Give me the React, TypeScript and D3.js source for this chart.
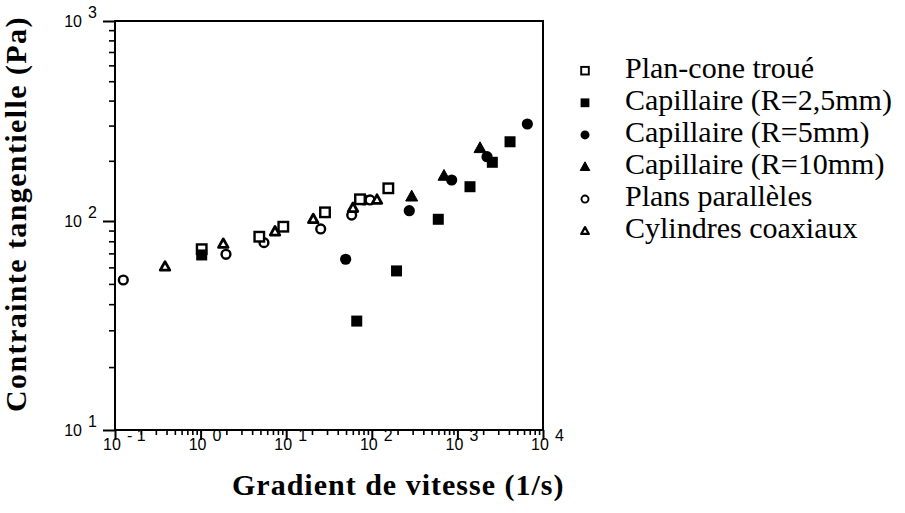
import React, { useEffect, useRef } from "react";
import * as d3 from "d3";

// ---- data ----
const planConeX = [1.03, 4.85, 9.25, 28.4, 72.8, 156];
const planConeY = [73.3, 84.1, 93.9, 110.5, 128.4, 145.7];

const cap25X = [1.03, 66.7, 194.5, 598, 1403, 2558, 4120];
const cap25Y = [68.8, 33.2, 57.7, 102, 148.4, 196.6, 249];

const cap5X = [49.5, 274, 857, 2218, 6561];
const cap5Y = [65.6, 112.6, 160.3, 209.6, 305.5];

const cap10X = [292.5, 697, 1837];
const cap10Y = [132.3, 168, 231];

const plansX = [0.125, 1.98, 5.5, 25.3, 58.2, 81.1, 95.3];
const plansY = [52.2, 69.3, 78.8, 91.6, 107, 127.4, 127.4];

const cylX = [0.384, 1.84, 7.4, 20.7, 60.3, 115];
const cylY = [60.4, 77.6, 88.9, 102, 116, 127.4];

const legendLabels = [
  "Plan-cone troué",
  "Capillaire (R=2,5mm)",
  "Capillaire (R=5mm)",
  "Capillaire (R=10mm)",
  "Plans parallèles",
  "Cylindres coaxiaux",
];
const markerKinds = ["openSquare", "filledSquare", "filledCircle", "filledTriangle", "openCircle", "cylTriangle"];

const xDecades = [-1, 0, 1, 2, 3, 4];
const yDecades = [1, 2, 3];

const xTitle = "Gradient de vitesse (1/s)";
const yTitle = "Contrainte tangentielle (Pa)";

// ---- layout ----
const W = 905;
const H = 513;
const left = 115, right = 543, top = 21, bottom = 430;

const xs = d3.scaleLog().domain([0.1, 10000]).range([left, right]);
const ys = d3.scaleLog().domain([10, 100, 1000]).range([bottom, 221, top]);

function Marker({ kind, cx, cy, s }: { kind: string; cx: number; cy: number; s: number }) {
  const tri = (size: number) => {
    const h = size * 0.9;
    return `M${cx},${cy - h * 0.6} L${cx + size / 2},${cy + h * 0.4} L${cx - size / 2},${cy + h * 0.4} Z`;
  };
  switch (kind) {
    case "openSquare": {
      const a = 9.5 * s;
      return <rect x={cx - a / 2} y={cy - a / 2} width={a} height={a} fill="#fff" stroke="#000" strokeWidth={2.4 * s} />;
    }
    case "filledSquare": {
      const a = 11 * s;
      return <rect x={cx - a / 2} y={cy - a / 2} width={a} height={a} fill="#000" />;
    }
    case "filledCircle":
      return <circle cx={cx} cy={cy} r={5.6 * s} fill="#000" />;
    case "filledTriangle":
      return <path d={tri(12 * s)} fill="#000" stroke="#000" strokeWidth={1} strokeLinejoin="round" />;
    case "openCircle":
      return <circle cx={cx} cy={cy} r={4.4 * s} fill="#fff" stroke="#000" strokeWidth={2.4 * s} />;
    case "cylTriangle":
      return <path d={tri(9.5 * s)} fill="#fff" stroke="#000" strokeWidth={2.8 * s} strokeLinejoin="round" />;
  }
  return null;
}

const tickFont = "'Liberation Sans', Arial, sans-serif";
const serif = "'Liberation Serif', 'Times New Roman', serif";
const tickStyle = { fontFamily: tickFont, fontSize: "16px", fill: "#000" };

export default function App() {
  const xAxisRef = useRef<SVGGElement>(null);
  const yAxisRef = useRef<SVGGElement>(null);

  const xMinor: number[] = [];
  for (let e = -1; e < 4; e++) for (let m = 2; m <= 9; m++) xMinor.push(m * Math.pow(10, e));
  const yMinor: number[] = [];
  for (let e = 1; e < 3; e++) for (let m = 2; m <= 9; m++) yMinor.push(m * Math.pow(10, e));
  const xMajor = xDecades.map((e) => Math.pow(10, e));
  const yMajor = yDecades.map((e) => Math.pow(10, e));

  useEffect(() => {
    const gx = d3.select(xAxisRef.current);
    gx.selectAll("*").remove();
    gx.append("g").call(d3.axisBottom(xs).tickValues(xMinor).tickSize(5).tickFormat(() => ""))
      .call((g) => g.select(".domain").remove())
      .call((g) => g.selectAll("line").attr("stroke", "#000").attr("stroke-width", 1.6));
    gx.append("g").call(d3.axisBottom(xs).tickValues(xMajor).tickSize(10).tickFormat(() => ""))
      .call((g) => g.select(".domain").remove())
      .call((g) => g.selectAll("line").attr("stroke", "#000").attr("stroke-width", 2));

    const gy = d3.select(yAxisRef.current);
    gy.selectAll("*").remove();
    gy.append("g").call(d3.axisLeft(ys).tickValues(yMinor).tickSize(6).tickFormat(() => ""))
      .call((g) => g.select(".domain").remove())
      .call((g) => g.selectAll("line").attr("stroke", "#000").attr("stroke-width", 1.6));
    gy.append("g").call(d3.axisLeft(ys).tickValues(yMajor).tickSize(12).tickFormat(() => ""))
      .call((g) => g.select(".domain").remove())
      .call((g) => g.selectAll("line").attr("stroke", "#000").attr("stroke-width", 2));
  }, []);

  const series = [
    { kind: "openCircle", xv: plansX, yv: plansY },
    { kind: "cylTriangle", xv: cylX, yv: cylY },
    { kind: "openSquare", xv: planConeX, yv: planConeY },
    { kind: "filledSquare", xv: cap25X, yv: cap25Y },
    { kind: "filledCircle", xv: cap5X, yv: cap5Y },
    { kind: "filledTriangle", xv: cap10X, yv: cap10Y },
  ];

  return (
    <svg width={W} height={H} style={{ position: "absolute", left: 0, top: 0, background: "#fff" }}>
      <rect x={0} y={0} width={W} height={H} fill="#fff" />
      <g ref={xAxisRef} transform={`translate(0,${bottom})`} />
      <g ref={yAxisRef} transform={`translate(${left},0)`} />
      {/* frame */}
      <rect x={left} y={top} width={right - left} height={bottom - top} style={{ fill: "none", stroke: "#000", strokeWidth: 2 }} />
      {/* x tick labels */}
      {xDecades.map((e) => {
        const px = xs(Math.pow(10, e));
        return (
          <g key={"xl" + e}>
            <text x={px - 3} y={bottom + 20} textAnchor="middle" style={tickStyle}>10</text>
            <text x={px + 12} y={bottom + 11} textAnchor="start" style={tickStyle}>{e < 0 ? "- " + Math.abs(e) : String(e)}</text>
          </g>
        );
      })}
      {/* y tick labels */}
      {yDecades.map((e) => {
        const py = ys(Math.pow(10, e));
        return (
          <g key={"yl" + e}>
            <text x={82} y={py + 6} textAnchor="end" style={tickStyle}>10</text>
            <text x={88} y={py - 3} textAnchor="start" style={tickStyle}>{String(e)}</text>
          </g>
        );
      })}
      {/* data */}
      {series.map((s) =>
        s.xv.map((v, i) => <Marker key={s.kind + i} kind={s.kind} cx={xs(v)} cy={ys(s.yv[i])} s={1} />)
      )}
      {/* legend */}
      {legendLabels.map((lab, i) => {
        const base = 77.7 + i * 32.1;
        return (
          <g key={"lg" + i}>
            <Marker kind={markerKinds[i]} cx={585} cy={base - 7} s={0.8} />
            <text x={625} y={base} style={{ fontFamily: serif, fontSize: "30px", fill: "#000" }}>{lab}</text>
          </g>
        );
      })}
      {/* axis titles */}
      <text x={232} y={495} style={{ fontFamily: serif, fontWeight: "bold", fontSize: "30px", letterSpacing: "1px", fill: "#000" }}>{xTitle}</text>
      <text transform="translate(26,412) rotate(-90)" style={{ fontFamily: serif, fontWeight: "bold", fontSize: "30px", letterSpacing: "1.4px", fill: "#000" }}>{yTitle}</text>
    </svg>
  );
}
